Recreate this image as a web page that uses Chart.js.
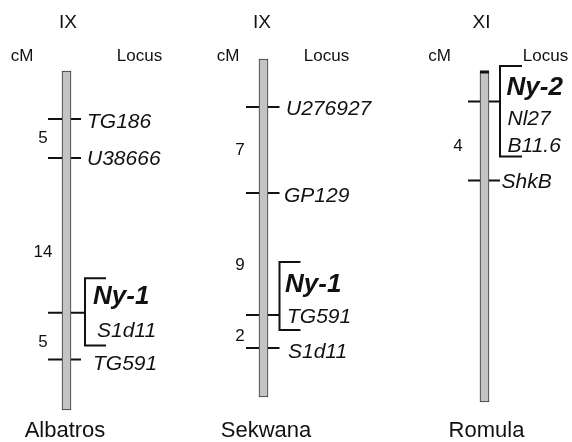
<!DOCTYPE html>
<html>
<head>
<meta charset="utf-8">
<script src="https://cdn.jsdelivr.net/npm/chart.js@4.4.1/dist/chart.umd.min.js"></script>
<style>
html,body{margin:0;padding:0;background:#fff;}
#wrap{width:572px;height:442px;position:relative;}
</style>
</head>
<body>
<div id="wrap"><canvas id="c"></canvas></div>
<script>
// ---- DATA (map positions, top = 0) ----
const cultivars = ['Albatros', 'Sekwana', 'Romula'];
const linkageGroups = ['IX', 'IX', 'XI'];

// chromosome extent [top, bottom] in map units
const albatrosSpan = [71, 410];
const sekwanaSpan = [59, 397];
const romulaSpan = [71, 402];

// marker tick positions
const albatrosTicks = [119, 158, 312.7, 359.5];
const sekwanaTicks = [107, 193, 315, 348];
const romulaTicks = [101.5, 180.5];

// locus names and their label positions
const albatrosLoci = ['TG186', 'U38666', 'Ny-1', 'S1d11', 'TG591'];
const albatrosLociPos = [120.5, 157.5, 295, 329.5, 362];
const sekwanaLoci = ['U276927', 'GP129', 'Ny-1', 'TG591', 'S1d11'];
const sekwanaLociPos = [107.5, 194.5, 283, 315.5, 350];
const romulaLoci = ['Ny-2', 'Nl27', 'B11.6', 'ShkB'];
const romulaLociPos = [85.5, 117.5, 144.5, 180.5];

// genetic distances (cM) between markers and their label positions
const albatrosCM = [5, 14, 5];
const albatrosCMPos = [137, 250.5, 340.5];
const sekwanaCM = [7, 9, 2];
const sekwanaCMPos = [148.5, 264, 335];
const romulaCM = [4];
const romulaCMPos = [145];

// bracketed gene clusters [top, bottom, tick index]
const albatrosBracket = [278.3, 345.5, 2];
const sekwanaBracket = [262, 330, 2];
const romulaBracket = [66, 156.5, 0];

// ---- LAYOUT ----
const layout = [
  {cx: 66.5, tickL: -18.5, tickR: 14.5, brX: 18.5, brW: 21,
   labelDx: [20.5, 20.5, 26.5, 30.5, 26.5], cmX: 43, titleX: 68, cmHX: 22, locusX: 139.5, nameX: 65},
  {cx: 263.5, tickL: -17.5, tickR: 16, brX: 16, brW: 21,
   labelDx: [22.5, 20.5, 21.5, 23.5, 24.5], cmX: 240, titleX: 262, cmHX: 228, locusX: 326.5, nameX: 266},
  {cx: 484.5, tickL: -16.5, tickR: 15.5, brX: 15.5, brW: 22,
   labelDx: [22, 23, 23, 17], cmX: 458, titleX: 481.5, cmHX: 439.5, locusX: 545.5, nameX: 486.5}
];

const spans = [albatrosSpan, sekwanaSpan, romulaSpan];
const ticks = [albatrosTicks, sekwanaTicks, romulaTicks];
const loci = [albatrosLoci, sekwanaLoci, romulaLoci];
const lociPos = [albatrosLociPos, sekwanaLociPos, romulaLociPos];
const cms = [albatrosCM, sekwanaCM, romulaCM];
const cmsPos = [albatrosCMPos, sekwanaCMPos, romulaCMPos];
const brackets = [albatrosBracket, sekwanaBracket, romulaBracket];

const datasets = [];
// chromosomes as floating bars (drawn on top of the marker ticks)
datasets.push({
  type: 'bar',
  data: spans.map((s, i) => ({x: layout[i].cx, y: s})),
  backgroundColor: '#c3c3c3',
  borderColor: '#333',
  borderWidth: 1,
  borderSkipped: false,
  barThickness: 9,
  order: 1
});
// marker ticks and brackets as line segments
const segs = [];
ticks.forEach((arr, i) => {
  const L = layout[i];
  arr.forEach((m, k) => {
    const br = brackets[i];
    const right = (k === br[2]) ? L.brX : L.tickR;
    segs.push({x: L.cx + L.tickL, y: m}, {x: L.cx + right, y: m}, {x: L.cx, y: null});
  });
  const br = brackets[i];
  segs.push({x: L.cx + L.brX + L.brW, y: br[0]}, {x: L.cx + L.brX, y: br[0]},
            {x: L.cx + L.brX, y: br[1]}, {x: L.cx + L.brX + L.brW, y: br[1]}, {x: L.cx, y: null});
});
datasets.push({
  type: 'line',
  data: segs,
  borderColor: '#111',
  borderWidth: 2,
  pointRadius: 0,
  spanGaps: false,
  fill: false,
  order: 2
});
// telomere cap on Romula (over the bar)
datasets.push({
  type: 'line',
  data: [{x: layout[2].cx - 4.5, y: romulaSpan[0] + 1}, {x: layout[2].cx + 4.5, y: romulaSpan[0] + 1}],
  borderColor: '#111',
  borderWidth: 3,
  pointRadius: 0,
  fill: false,
  order: 0
});

const FONT = '"Liberation Sans", Arial, sans-serif';
const textPlugin = {
  id: 'texts',
  afterDatasetsDraw(chart) {
    const {ctx, scales: {x, y}} = chart;
    ctx.save();
    ctx.fillStyle = '#111';
    const put = (txt, px, py, font, size, align) => {
      ctx.font = font + ' ' + size + 'px ' + FONT;
      ctx.textAlign = align;
      ctx.textBaseline = 'alphabetic';
      ctx.fillText(txt, x.getPixelForValue(px), y.getPixelForValue(py) + size * 0.36);
    };
    cultivars.forEach((name, i) => {
      const L = layout[i];
      put(linkageGroups[i], L.titleX, 21.5, '', 19, 'center');
      put('cM', L.cmHX, 54.5, '', 17, 'center');
      put('Locus', L.locusX, 54.5, '', 17, 'center');
      put(name, L.nameX, 429, '', 22, 'center');
      loci[i].forEach((lc, k) => {
        const bold = lc.startsWith('Ny');
        put(lc, L.cx + L.labelDx[k], lociPos[i][k], bold ? 'italic bold' : 'italic', bold ? 26 : 21, 'left');
      });
      cms[i].forEach((v, k) => put(String(v), L.cmX, cmsPos[i][k], '', 17, 'center'));
    });
    ctx.restore();
  }
};

new Chart(document.getElementById('c'), {
  type: 'bar',
  data: {datasets},
  options: {
    responsive: true,
    maintainAspectRatio: false,
    animation: false,
    layout: {padding: 0},
    plugins: {legend: {display: false}, tooltip: {enabled: false}},
    scales: {
      x: {type: 'linear', min: 0, max: 572, display: false, offset: false},
      y: {type: 'linear', min: 0, max: 442, reverse: true, display: false}
    }
  },
  plugins: [textPlugin]
});
</script>
</body>
</html>
